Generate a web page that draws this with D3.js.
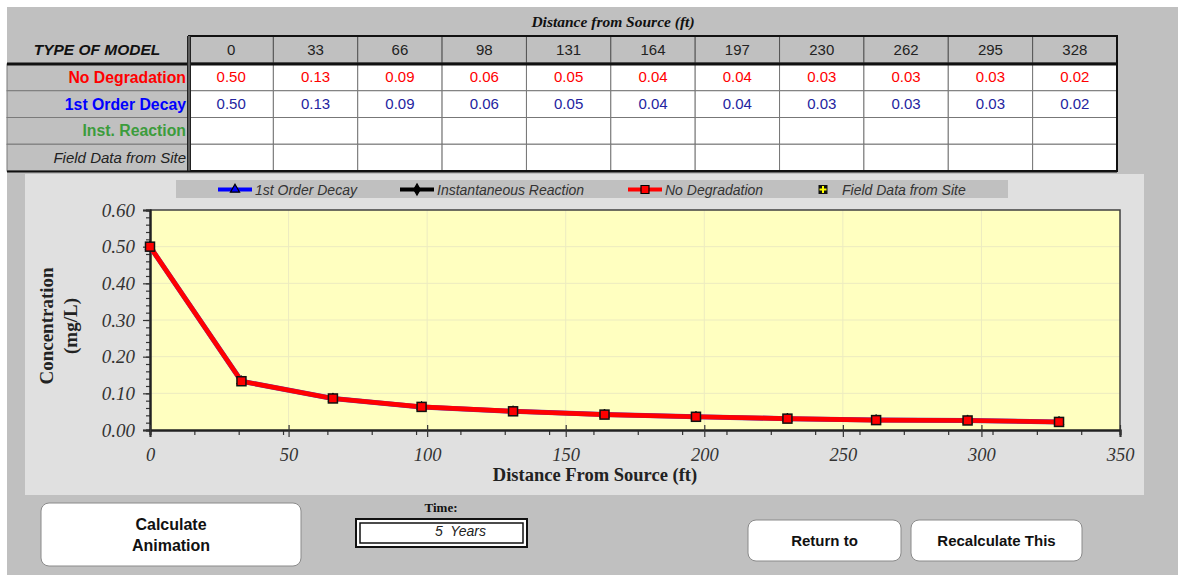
<!DOCTYPE html>
<html><head><meta charset="utf-8">
<script src="https://cdn.jsdelivr.net/npm/d3@7"></script>
<style>
html,body{margin:0;padding:0;background:#fff;}
svg{display:block;}
</style></head>
<body>
<svg id="c" width="1178" height="577"></svg>
<script>
// ---- data ----
const distances = [0, 33, 66, 98, 131, 164, 197, 230, 262, 295, 328];
const noDegradation = [0.50, 0.133, 0.086, 0.063, 0.051, 0.042, 0.036, 0.031, 0.027, 0.026, 0.022];
const firstOrderDecay = [0.50, 0.133, 0.086, 0.063, 0.051, 0.042, 0.036, 0.031, 0.027, 0.026, 0.022];
const instReaction = [];
const fieldData = [];
const rowLabels = ["No Degradation", "1st Order Decay", "Inst. Reaction", "Field Data from Site"];
const legendLabels = ["1st Order Decay", "Instantaneous Reaction", "No Degradation", "Field Data from Site"];
const yTicks = [0, 0.1, 0.2, 0.3, 0.4, 0.5, 0.6];
const xTicks = [0, 50, 100, 150, 200, 250, 300, 350];
const timeLabel = "5  Years";

const svg = d3.select("#c");
const serif = "'Liberation Serif', 'Times New Roman', serif";
const sans = "'Liberation Sans', Arial, sans-serif";

// background
svg.append("rect").attr("x",0).attr("y",0).attr("width",1178).attr("height",577).attr("fill","#fff");
svg.append("rect").attr("x",7).attr("y",7).attr("width",1171).attr("height",568).attr("fill","#c0c0c0");

// ---- table ----
svg.append("text").attr("x",613).attr("y",27).attr("text-anchor","middle")
  .attr("font-family",serif).attr("font-weight","bold").attr("font-style","italic")
  .attr("font-size",15.5).attr("fill","#111").text("Distance from Source (ft)");

const colX = d3.scaleBand().domain(distances).range([189,1117]);
const rowY = d3.scaleBand().domain(rowLabels).range([64,171]);
const headTop = 36, headBot = 63;

// header cells
svg.selectAll(".hcell").data(distances).join("rect")
  .attr("x",d=>colX(d)).attr("y",headTop).attr("width",colX.bandwidth()).attr("height",headBot-headTop)
  .attr("fill","#c0c0c0").attr("stroke","#555").attr("stroke-width",1);
svg.selectAll(".htext").data(distances).join("text")
  .attr("x",d=>colX(d)+colX.bandwidth()/2).attr("y",55).attr("text-anchor","middle")
  .attr("font-family",sans).attr("font-size",15).attr("fill","#222").text(d=>d);
svg.append("text").attr("x",97).attr("y",55).attr("text-anchor","middle")
  .attr("font-family",sans).attr("font-weight","bold").attr("font-style","italic")
  .attr("font-size",15.5).attr("fill","#111").text("TYPE OF MODEL");

// label cells
svg.selectAll(".lcell").data(rowLabels).join("rect")
  .attr("x",7).attr("y",d=>rowY(d)).attr("width",182).attr("height",rowY.bandwidth())
  .attr("fill","#c0c0c0").attr("stroke","#7a7a7a").attr("stroke-width",1);
const labelColors = ["#ff0000","#0000ff","#3c9c3c","#222"];
svg.selectAll(".ltext").data(rowLabels).join("text")
  .attr("x",186).attr("y",d=>rowY(d)+rowY.bandwidth()/2+5.5).attr("text-anchor","end")
  .attr("font-family",sans).attr("font-size",(d,i)=>i<3?15.8:15)
  .attr("font-weight",(d,i)=>i<3?"bold":"normal").attr("font-style",(d,i)=>i===3?"italic":"normal")
  .attr("fill",(d,i)=>labelColors[i]).text(d=>d);

// data cells
rowLabels.forEach(r=>{
  svg.append("g").selectAll("rect").data(distances).join("rect")
    .attr("x",d=>colX(d)).attr("y",rowY(r)).attr("width",colX.bandwidth()).attr("height",rowY.bandwidth())
    .attr("fill","#fff").attr("stroke","#777").attr("stroke-width",1);
});
const fmt = d3.format(".2f");
svg.append("g").selectAll("text").data(noDegradation).join("text")
  .attr("x",(d,i)=>colX(distances[i])+colX.bandwidth()/2).attr("y",rowY(rowLabels[0])+rowY.bandwidth()/2+5)
  .attr("text-anchor","middle").attr("font-family",sans).attr("font-size",15).attr("fill","#ff0000").text(d=>fmt(d));
svg.append("g").selectAll("text").data(firstOrderDecay).join("text")
  .attr("x",(d,i)=>colX(distances[i])+colX.bandwidth()/2).attr("y",rowY(rowLabels[1])+rowY.bandwidth()/2+5)
  .attr("text-anchor","middle").attr("font-family",sans).attr("font-size",15).attr("fill","#2424a0").text(d=>fmt(d));

// heavy borders
svg.append("rect").attr("x",189).attr("y",headTop).attr("width",928).attr("height",171-headTop)
  .attr("fill","none").attr("stroke","#111").attr("stroke-width",2);
svg.append("line").attr("x1",7).attr("x2",1117).attr("y1",64).attr("y2",64).attr("stroke","#111").attr("stroke-width",3);
svg.append("line").attr("x1",189).attr("x2",189).attr("y1",headTop).attr("y2",171).attr("stroke","#222").attr("stroke-width",4);
svg.append("line").attr("x1",189).attr("x2",189).attr("y1",headTop).attr("y2",171).attr("stroke","#999").attr("stroke-width",1);
svg.append("line").attr("x1",7).attr("x2",1117).attr("y1",171.5).attr("y2",171.5).attr("stroke","#111").attr("stroke-width",2);

// ---- chart panel ----
svg.append("rect").attr("x",25).attr("y",174).attr("width",1119).attr("height",321).attr("fill","#e0e0e0");

// legend
svg.append("rect").attr("x",176).attr("y",180).attr("width",832).attr("height",18).attr("fill","#c0c0c0");
const legendItems = [
  {label:legendLabels[0], x:218, color:"#0000ff", sym:d3.symbolTriangle, fill:"#0000ff", size:36, line:true},
  {label:legendLabels[1], x:400, color:"#000", sym:d3.symbolDiamond, fill:"#000", size:36, line:true},
  {label:legendLabels[2], x:628, color:"#ff0000", sym:d3.symbolSquare, fill:"#ff0000", size:64, line:true},
  {label:legendLabels[3], x:805, color:"#000", sym:null, line:false}
];
const lg = svg.append("g");
legendItems.forEach(it=>{
  const cy = 189.5;
  if (it.line) {
    lg.append("line").attr("x1",it.x).attr("x2",it.x+34).attr("y1",cy).attr("y2",cy)
      .attr("stroke",it.color).attr("stroke-width",4);
    lg.append("path").attr("d",d3.symbol(it.sym,it.size)()).attr("transform",`translate(${it.x+17},${cy})`)
      .attr("fill",it.fill).attr("stroke","#000").attr("stroke-width",1.2);
    lg.append("text").attr("x",it.x+37).attr("y",cy+5).attr("font-family",sans).attr("font-style","italic")
      .attr("font-size",14).attr("fill","#333").text(it.label);
  } else {
    const mx = it.x+18;
    lg.append("rect").attr("x",mx-4.5).attr("y",cy-4.5).attr("width",9).attr("height",9).attr("fill","#111");
    lg.append("line").attr("x1",mx-3.5).attr("x2",mx+3.5).attr("y1",cy).attr("y2",cy).attr("stroke","#ffff00").attr("stroke-width",2);
    lg.append("line").attr("x1",mx).attr("x2",mx).attr("y1",cy-3.5).attr("y2",cy+3.5).attr("stroke","#ffff00").attr("stroke-width",2);
    lg.append("text").attr("x",mx+19).attr("y",cy+5).attr("font-family",sans).attr("font-style","italic")
      .attr("font-size",14).attr("fill","#333").text(it.label);
  }
});

// plot
const x = d3.scaleLinear().domain([0,350]).range([150,1120]);
const y = d3.scaleLinear().domain([0,0.6]).range([430,210]);
svg.append("rect").attr("x",x(0)).attr("y",y(0.6)).attr("width",x(350)-x(0)).attr("height",y(0)-y(0.6)).attr("fill","#ffffc0");
// grid
svg.append("g").selectAll("line").data(xTicks.slice(1,-1)).join("line")
  .attr("x1",d=>x(d)).attr("x2",d=>x(d)).attr("y1",y(0)).attr("y2",y(0.6)).attr("stroke","#ecebc0").attr("stroke-width",1);
svg.append("g").selectAll("line").data(yTicks.slice(1,-1)).join("line")
  .attr("y1",d=>y(d)).attr("y2",d=>y(d)).attr("x1",x(0)).attr("x2",x(350)).attr("stroke","#ecebc0").attr("stroke-width",1);
// top/right border
svg.append("path").attr("d",`M${x(0)},${y(0.6)}H${x(350)}V${y(0)}`).attr("fill","none").attr("stroke","#404040").attr("stroke-width",1.5);

// axes
const yMinor = d3.range(0,0.6001,0.02);
const xMinor = d3.range(0,351,16);
const axStyle = g=>{ g.select(".domain").attr("stroke","#222").attr("stroke-width",2); g.selectAll(".tick line").attr("stroke","#333").attr("stroke-width",1.2); };
svg.append("g").attr("transform",`translate(${x(0)},0)`)
  .call(d3.axisLeft(y).tickValues(yMinor).tickSize(4).tickFormat("")).call(axStyle);
const yAx = svg.append("g").attr("transform",`translate(${x(0)},0)`)
  .call(d3.axisLeft(y).tickValues(yTicks).tickSize(7).tickPadding(8).tickFormat(d3.format(".2f"))).call(axStyle);
yAx.selectAll("text").attr("font-family",serif).attr("font-style","italic").attr("font-size",19).attr("fill","#333");
svg.append("g").attr("transform",`translate(0,${y(0)})`)
  .call(d3.axisBottom(x).tickValues(xMinor).tickSize(5).tickFormat("")).call(axStyle);
const xAx = svg.append("g").attr("transform",`translate(0,${y(0)})`)
  .call(d3.axisBottom(x).tickValues(xTicks).tickSize(7).tickPadding(11).tickFormat(d3.format("d"))).call(axStyle);
xAx.selectAll(".tick line").attr("y1",-5);
xAx.selectAll("text").attr("font-family",serif).attr("font-style","italic").attr("font-size",18.5).attr("fill","#333");

// axis titles
svg.append("text").attr("x",595).attr("y",481).attr("text-anchor","middle")
  .attr("font-family",serif).attr("font-weight","bold").attr("font-size",18.5).attr("fill","#222")
  .text("Distance From Source (ft)");
svg.append("text").attr("transform","translate(53,326) rotate(-90)").attr("text-anchor","middle")
  .attr("font-family",serif).attr("font-weight","bold").attr("font-size",19).attr("fill","#222").text("Concentration");
svg.append("text").attr("transform","translate(77,326) rotate(-90)").attr("text-anchor","middle")
  .attr("font-family",serif).attr("font-weight","bold").attr("font-size",19).attr("fill","#222").text("(mg/L)");

// series
const line = d3.line().x((d,i)=>x(distances[i])).y(d=>y(d));
svg.append("path").datum(firstOrderDecay).attr("d",line).attr("fill","none").attr("stroke","#6030b0").attr("stroke-width",5).attr("stroke-linejoin","round");
svg.append("g").selectAll("path").data(firstOrderDecay).join("path")
  .attr("d",d3.symbol(d3.symbolTriangle,40)()).attr("transform",(d,i)=>`translate(${x(distances[i])},${y(d)})`)
  .attr("fill","#0000ff").attr("stroke","#000");
svg.append("path").datum(noDegradation).attr("d",line).attr("fill","none").attr("stroke","#ff0000").attr("stroke-width",4.6).attr("stroke-linejoin","round");
svg.append("g").selectAll("rect").data(noDegradation).join("rect")
  .attr("x",(d,i)=>x(distances[i])-4.5).attr("y",d=>y(d)-4.5).attr("width",9).attr("height",9)
  .attr("fill","#ff0000").attr("stroke","#111").attr("stroke-width",1.5);

// ---- controls ----
const btn = (bx,by,bw,bh,lines,fs)=>{
  svg.append("rect").attr("x",bx).attr("y",by).attr("width",bw).attr("height",bh).attr("rx",8)
    .attr("fill","#fff").attr("stroke","#8a8a8a").attr("stroke-width",1);
  const cy = by+bh/2, n = lines.length, lh = fs*1.3;
  lines.forEach((t,i)=>{
    svg.append("text").attr("x",bx+bw/2).attr("y",cy+(i-(n-1)/2)*lh+fs*0.36).attr("text-anchor","middle")
      .attr("font-family",sans).attr("font-weight","bold").attr("font-size",fs).attr("fill","#111").text(t);
  });
};
btn(41,503,260,63,["Calculate","Animation"],16);
btn(748,520,153,41,["Return to"],15);
btn(911,520,171,41,["Recalculate This"],15);

svg.append("text").attr("x",441).attr("y",512).attr("text-anchor","middle")
  .attr("font-family",serif).attr("font-weight","bold").attr("font-size",13).attr("fill","#111").text("Time:");
svg.append("rect").attr("x",356).attr("y",519).attr("width",171).attr("height",28).attr("fill","#fff").attr("stroke","#111").attr("stroke-width",2);
svg.append("rect").attr("x",360).attr("y",523).attr("width",163).attr("height",20).attr("fill","#fff").attr("stroke","#111").attr("stroke-width",1.5);
svg.append("text").attr("x",486).attr("y",536).attr("text-anchor","end").attr("xml:space","preserve")
  .attr("font-family",sans).attr("font-style","italic").attr("font-size",14).attr("fill","#222").text(timeLabel);
</script>
</body></html>
